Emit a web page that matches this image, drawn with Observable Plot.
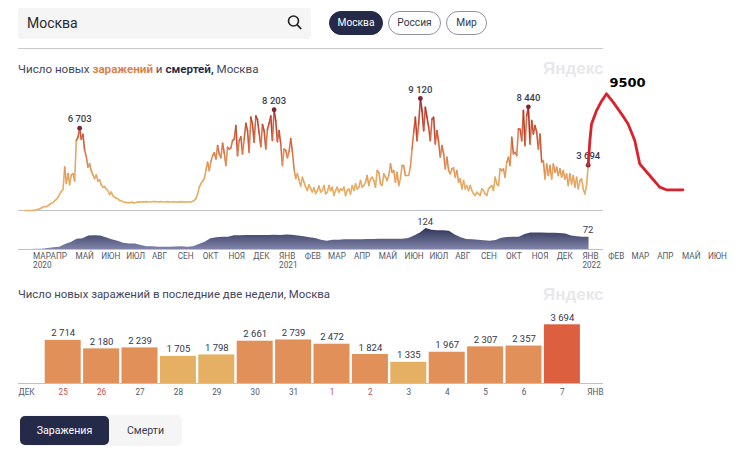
<!DOCTYPE html>
<html lang="ru">
<head>
<meta charset="utf-8">
<script src="https://cdn.jsdelivr.net/npm/d3@7"></script>
<script src="https://cdn.jsdelivr.net/npm/@observablehq/plot@0.6"></script>
<style>
  html, body { margin: 0; padding: 0; background: #fff; }
  #page { position: relative; width: 748px; height: 458px; overflow: hidden; font-family: Roboto, "Open Sans", sans-serif; color: #2b2e45; }
  #page > * { position: absolute; }
  .search { left: 18px; top: 8px; width: 293px; height: 31px; background: #f5f5f5; border-radius: 3px; }
  .search span { position: absolute; left: 9px; top: 4px; font-size: 14px; line-height: 22px; color: #2a2a2a; }
  .search svg { position: absolute; left: 269px; top: 6px; }
  .pill { top: 11px; height: 22px; line-height: 22px; border: 1px solid #8f92a3; border-radius: 12px; text-align: center; font-size: 10.2px; color: #33364d; background: #fff; }
  .pill.on { background: #252a48; color: #fff; border-color: #252a48; }
  .hr { left: 18px; top: 48px; width: 585px; height: 1px; background: #c9cad0; }
  .title { left: 18px; line-height: 16px; color: #44475c; white-space: nowrap; }
  .title b { font-weight: 600; }
  .title b.o { color: #e07a3e; } .title b.d { color: #24273f; }
  .mark { font-family: "Liberation Sans Narrow", "Liberation Sans", sans-serif; font-weight: 700; font-size: 17px; line-height: 20px; color: #e8e8ea; width: 60px; left: 543px; text-align: right; }
  .tabs { left: 20px; top: 415px; width: 162px; height: 31px; background: #f5f5f5; border-radius: 5px; }
  .tabs div { position: absolute; top: 1px; height: 29px; line-height: 29px; text-align: center; font-size: 10.6px; }
  .tabs .on { left: 0; width: 89px; background: #252a48; color: #fff; border-radius: 5px; }
  .tabs .off { left: 89px; width: 73px; color: #3a3d52; }
  .chart svg { display: block; overflow: visible; }
</style>
</head>
<body>
<div id="page">
  <div class="search"><span>Москва</span>
    <svg width="16" height="17" viewBox="0 0 16 17"><circle cx="6.5" cy="7" r="5" fill="none" stroke="#222" stroke-width="1.6"/><line x1="10.2" y1="10.8" x2="14.2" y2="15" stroke="#222" stroke-width="1.8"/></svg>
  </div>
  <div class="pill on" style="left:329px;width:52px">Москва</div>
  <div class="pill" style="left:388px;width:51px">Россия</div>
  <div class="pill" style="left:446px;width:39px">Мир</div>
  <div class="hr"></div>
  <div class="title" style="top:61px;font-size:11.6px">Число новых <b class="o">заражений</b> и <b class="d">смертей,</b> Москва</div>
  <div class="mark" style="top:59px">Яндекс</div>
  <div class="chart" id="main" style="left:0;top:70px"></div>
  <div class="chart" id="deaths" style="left:0;top:216px"></div>
  <div class="title" style="top:286px;font-size:11.4px">Число новых заражений в последние две недели, Москва</div>
  <div class="mark" style="top:285px">Яндекс</div>
  <div class="chart" id="bars" style="left:0;top:300px"></div>
  <div class="tabs"><div class="on">Заражения</div><div class="off">Смерти</div></div>
</div>
<script>
// Новые заражения, Москва: отсчёты через каждые 2 дня с 1 марта 2020
const casesWave1 = [0,0,0,0,0,10,40,60,100,150,200,280,320,300,400,490,600,650,800,900,1080,1350,1550,1700,3530,2200,3000,2100,2900,3000,2400,5700,5950,6703,5800,6200,4900,4400,3530,3800,3250,2900,2600,2900,2400,2500,2100,1900,1950,1750,1630,1300,1500,1200,1080,1000,950,820,800,720,680,650,640,620,680,640,620,650,680,700,690,710,700,720,700,690,710,720,730];
const casesSummer = [720,710,700,720,710,690,700,720,700,690,700,710,690,680,700,720,700,680,690,700,690];
const casesWave2 = [700,750,820,980,1350,1900,2190,2400,2600,3300,3930,3250,4000,4470,4700,4200,5290,4600,4300,5480,4700,3660,5150,5000,5100,5700,5800,6920,4470,5700,6000,4600,5800,7100,6500,4740,7600,7000,5560,7700,7400,6300,5200,7000,6500,5020,6600,7100,7700,5700,8203,7300,5600,6510,5400,3660,5000,4900,4300,4800,5860,4800,3400,2600,3000,2500,2000,2700,2300,1900,1630,2100,1800,1500,1850,1380,1600,2000,1500];
const casesSpring = [1626,2033,1355,1490,2033,1626,1897,1220,1626,1897,1490,1760,1626,1897,1220,1626,1760,1355,2033,1626,2168,1760,1897,2439,1897,2033,2300,2850,2033,2575,2710,2439,1897,3250,3117,2168,2033,2980,2710,2439,2850,3794,3117,3250,2300,3117,2033,2575,3660,3660,2850,2850,2850,3520,5010,6370,7590,5690,7050,9120,8130,6500,8400,7590,6780,5690,7450,7590,5420,6500,5560];
const casesAutumn = [4340,5280,4610,3390,4340,3250,2980,3390,3470,2710,3250,2300,2575,1760,2440,1760,2030,1630,2030,1630,1355,1220,1490,1355,1220,1760,1630,1355,1220,1760,1900,2030,1630,2710,2170,2030,3390,3250,3390,2710,3930,4340,3660,5960,4610,4740,4470,6640,6640,5690,8130,5280,7720,8440,5420,7320,6230,6910,6370,5010,6230,3930,4065,2575,3790,2850,3660,2575,3790,3120,3520,2850,3390,2710,3250,2575,2980,2030,2980,2170,2850,1900,2710,1760,2440,2575,1760,1355,2030,3694];
const casesPeaks = [6703, 8203, 9120, 8440, 3694];

// Смерти: недельные отсчёты
const deathsWeekly = [0,0,1,2,6,10,14,30,41,60,63,79,81,79,69,57,49,37,33,33,24,16,16,14,14,14,15,16,14,16,30,43,63,69,73,73,81,81,82,82,83,82,83,84,83,85,84,80,75,69,65,55,49,55,55,57,57,57,57,59,59,61,61,61,61,61,65,79,98,124,114,110,110,108,85,69,59,57,55,51,49,53,67,71,73,73,89,98,98,98,96,96,95,91,79,75,73,72];

// Нарисованный от руки прогноз
const forecastDates = ["2022-01-08","2022-01-10","2022-01-12","2022-01-18","2022-01-24","2022-01-30","2022-02-07","2022-02-17","2022-02-25","2022-03-05","2022-03-11","2022-03-23","2022-04-04","2022-04-12","2022-05-02"];
const forecastValues = [3694,5700,7050,8140,8900,9500,8820,7870,7050,5700,3800,2850,1900,1685,1685];

// Подписи месяцев
const monthDates = ["2020-03-11","2020-04-01","2020-05-01","2020-06-01","2020-07-01","2020-08-01","2020-09-01","2020-10-01","2020-11-01","2020-12-01","2021-01-01","2021-02-01","2021-03-01","2021-04-01","2021-05-01","2021-06-01","2021-07-01","2021-08-01","2021-09-01","2021-10-01","2021-11-01","2021-12-01","2022-01-01","2022-02-01","2022-03-01","2022-04-01","2022-05-01","2022-06-01"];
const monthLabels = ["МАР\n2020","АПР","МАЙ","ИЮН","ИЮЛ","АВГ","СЕН","ОКТ","НОЯ","ДЕК","ЯНВ\n2021","ФЕВ","МАР","АПР","МАЙ","ИЮН","ИЮЛ","АВГ","СЕН","ОКТ","НОЯ","ДЕК","ЯНВ\n2022","ФЕВ","МАР","АПР","МАЙ","ИЮН"];

// Последние две недели
const lastDays = ["25","26","27","28","29","30","31","1","2","3","4","5","6","7"];
const lastValues = [2714,2180,2239,1705,1798,2661,2739,2472,1824,1335,1967,2307,2357,3694];
const holidayDays = ["25","26","1","2"];

const fmt = v => String(v).replace(/\B(?=(\d{3})+$)/g, " ");
const day = (i, step) => new Date(Date.UTC(2020, 2, 1 + i * step));
const xScale = {
  type: "time",
  domain: [new Date(Date.UTC(2020, 2, 1)), new Date(Date.UTC(2022, 0, 1))],
  range: [24.3, 581.9],
  axis: null
};
const baseStyle = { background: "transparent", overflow: "visible", fontFamily: "Roboto, 'Open Sans', sans-serif" };

const cases = [...casesWave1, ...casesSummer, ...casesWave2, ...casesSpring, ...casesAutumn]
  .map((v, i) => ({ date: day(i, 2), v }));
const peaks = cases.filter(d => casesPeaks.includes(d.v));
const forecast = forecastDates.map((d, i) => ({ date: new Date(d), v: forecastValues[i] }));

document.getElementById("main").append(Plot.plot({
  width: 748, height: 146, marginTop: 0, marginBottom: 0, marginLeft: 18, marginRight: 145,
  style: baseStyle,
  x: xScale,
  y: { domain: [0, 9120], range: [140, 28], axis: null },
  color: { type: "linear", domain: [0, 2600, 4500, 6500, 9120], range: ["#e8b26a", "#e6a762", "#dc8250", "#cc5538", "#a92a26"] },
  marks: [
    Plot.ruleY([0], { stroke: "#bfc1c9", strokeWidth: 1.2 }),
    Plot.line(cases, { x: "date", y: "v", z: null, stroke: "v", strokeWidth: 1.6 }),
    Plot.dot(peaks, { x: "date", y: "v", r: 2.4, fill: "#7d2536" }),
    Plot.text(peaks, { x: "date", y: "v", text: d => fmt(d.v), dy: -9, fontSize: 9.5, fontWeight: 500, fill: "#3a3d50" }),
    Plot.line(forecast, { x: "date", y: "v", stroke: "#d9232c", strokeWidth: 2.8 }),
    Plot.text(forecast.filter(d => d.v === 9500), { x: "date", y: "v", text: d => String(d.v), dx: 21, dy: -11, fontSize: 13, fontWeight: 700, fill: "#000", fontFamily: "DejaVu Sans" })
  ]
}));

const deaths = deathsWeekly.map((v, i) => ({ date: day(i, 7), v }));
const deathLabels = deaths.filter((d, i) => d.v === 124 || i === deaths.length - 1);
const months = monthDates.map((d, i) => ({ date: new Date(d), label: monthLabels[i] }));
const gradient = () => {
  const defs = d3.create("svg:defs");
  const g = defs.append("linearGradient").attr("id", "deathFill").attr("x1", 0).attr("x2", 0).attr("y1", 0).attr("y2", 1);
  g.append("stop").attr("offset", "0%").attr("stop-color", "#2f3358");
  g.append("stop").attr("offset", "100%").attr("stop-color", "#7f84a8");
  return defs.node();
};

document.getElementById("deaths").append(Plot.plot({
  width: 748, height: 56, marginTop: 0, marginBottom: 0, marginLeft: 18, marginRight: 145,
  style: baseStyle,
  x: xScale,
  y: { domain: [0, 124], range: [33, 12], axis: null },
  marks: [
    gradient,
    Plot.areaY(deaths, { x: "date", y: "v", fill: "url(#deathFill)" }),
    Plot.ruleY([0], { stroke: "#bfc1c9", strokeWidth: 1.2 }),
    Plot.text(deathLabels, { x: "date", y: "v", text: d => String(d.v), dx: -1, dy: -7, fontSize: 9.5, fill: "#3a3d50" }),
    Plot.text(months, { x: "date", text: "label", frameAnchor: "top", dy: 36.5, textAnchor: "start", lineAnchor: "top", fontSize: 8.2, lineHeight: 1.1, fill: "#555866" })
  ]
}));

const bars = lastDays.map((d, i) => ({ d, v: lastValues[i] }));
document.getElementById("bars").append(Plot.plot({
  width: 748, height: 94, marginTop: 0, marginBottom: 0, marginLeft: 18, marginRight: 145,
  style: baseStyle,
  x: { type: "band", domain: lastDays, range: [42.3, 582.3], padding: 0.0625, round: false, axis: null },
  y: { domain: [0, 3694], range: [83, 24.3], axis: null },
  color: { type: "threshold", domain: [1800, 3000], range: ["#e6b064", "#e09058", "#dc6040"] },
  marks: [
    Plot.barY(bars, { x: "d", y: "v", fill: "v" }),
    Plot.ruleY([0], { stroke: "#bfc1c9", strokeWidth: 1.2 }),
    Plot.text(bars, { x: "d", y: "v", text: d => fmt(d.v), dy: -7, fontSize: 9.5, fill: "#33364a" }),
    Plot.text(lastDays.filter(d => !holidayDays.includes(d)), { x: d => d, text: d => d, frameAnchor: "bottom", lineAnchor: "bottom", fontSize: 8.2, fill: "#555866" }),
    Plot.text(holidayDays, { x: d => d, text: d => d, frameAnchor: "bottom", lineAnchor: "bottom", fontSize: 8.2, fill: "#c2524c" }),
    Plot.text(["ДЕК"], { text: d => d, frameAnchor: "bottom-left", lineAnchor: "bottom", textAnchor: "start", fontSize: 8.2, fill: "#555866" }),
    Plot.text(["ЯНВ"], { text: d => d, frameAnchor: "bottom-right", lineAnchor: "bottom", textAnchor: "end", fontSize: 8.2, fill: "#555866" })
  ]
}));
</script>
</body>
</html>
